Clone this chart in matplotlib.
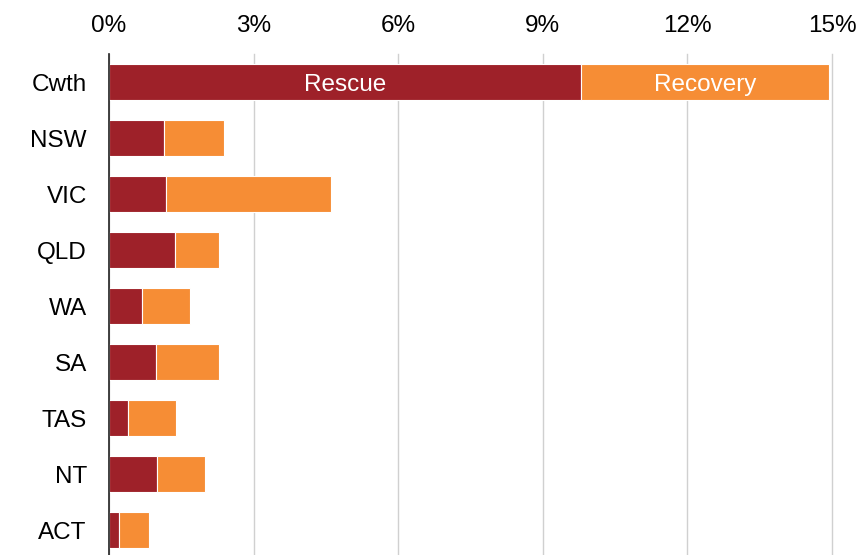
import matplotlib.pyplot as plt
import numpy as np

plt.rcParams['font.family'] = ['Liberation Sans', 'DejaVu Sans']

states = ["Cwth", "NSW", "VIC", "QLD", "WA", "SA", "TAS", "NT", "ACT"]
rescue = [9.79, 1.14, 1.19, 1.36, 0.69, 0.97, 0.39, 1.00, 0.20]
total = [14.93, 2.39, 4.60, 2.28, 1.69, 2.28, 1.40, 1.99, 0.82]
recovery = [t - r for t, r in zip(total, rescue)]
ticks = [0, 3, 6, 9, 12, 15]

c_rescue = "#9e2129"
c_recovery = "#f68d35"

fig = plt.figure(figsize=(8.66, 5.55), dpi=100)
ax = fig.add_axes([109 / 866, 0, (832 - 109) / 866, 1 - 54 / 555])

y = np.arange(len(states))
ax.barh(y, rescue, height=0.64, color=c_rescue, edgecolor="white", linewidth=0.8, zorder=3)
ax.barh(y, recovery, left=rescue, height=0.64, color=c_recovery, edgecolor="white", linewidth=0.8, zorder=3)

# labels inside the Cwth bar
ax.text(rescue[0] / 2, 0.16, "Rescue", color="white", ha="center", va="baseline", fontsize=17.5, zorder=4)
ax.text(rescue[0] + recovery[0] / 2, 0.16, "Recovery", color="white", ha="center", va="baseline", fontsize=17.5, zorder=4)

ax.set_xlim(0, 15)
ax.set_ylim(8.446, -0.5)
ax.set_xticks(ticks)
ax.set_xticklabels([f"{t}%" for t in ticks])
ax.set_yticks(y)
ax.set_yticklabels(states)
ax.xaxis.tick_top()
ax.tick_params(axis="both", length=0, labelsize=17.5)
ax.tick_params(axis="x", pad=12)
ax.tick_params(axis="y", pad=16)
ax.grid(axis="x", color="#d0d0d0", linewidth=1, zorder=0)
for line in ax.get_xgridlines():
    line.set_clip_on(False)
ax.set_axisbelow(True)
for s in ["top", "right", "bottom"]:
    ax.spines[s].set_visible(False)
ax.spines["left"].set_color("#222222")
ax.spines["left"].set_linewidth(1.2)
ax.spines["left"].set_zorder(5)

fig.savefig("out.png", dpi=100)
